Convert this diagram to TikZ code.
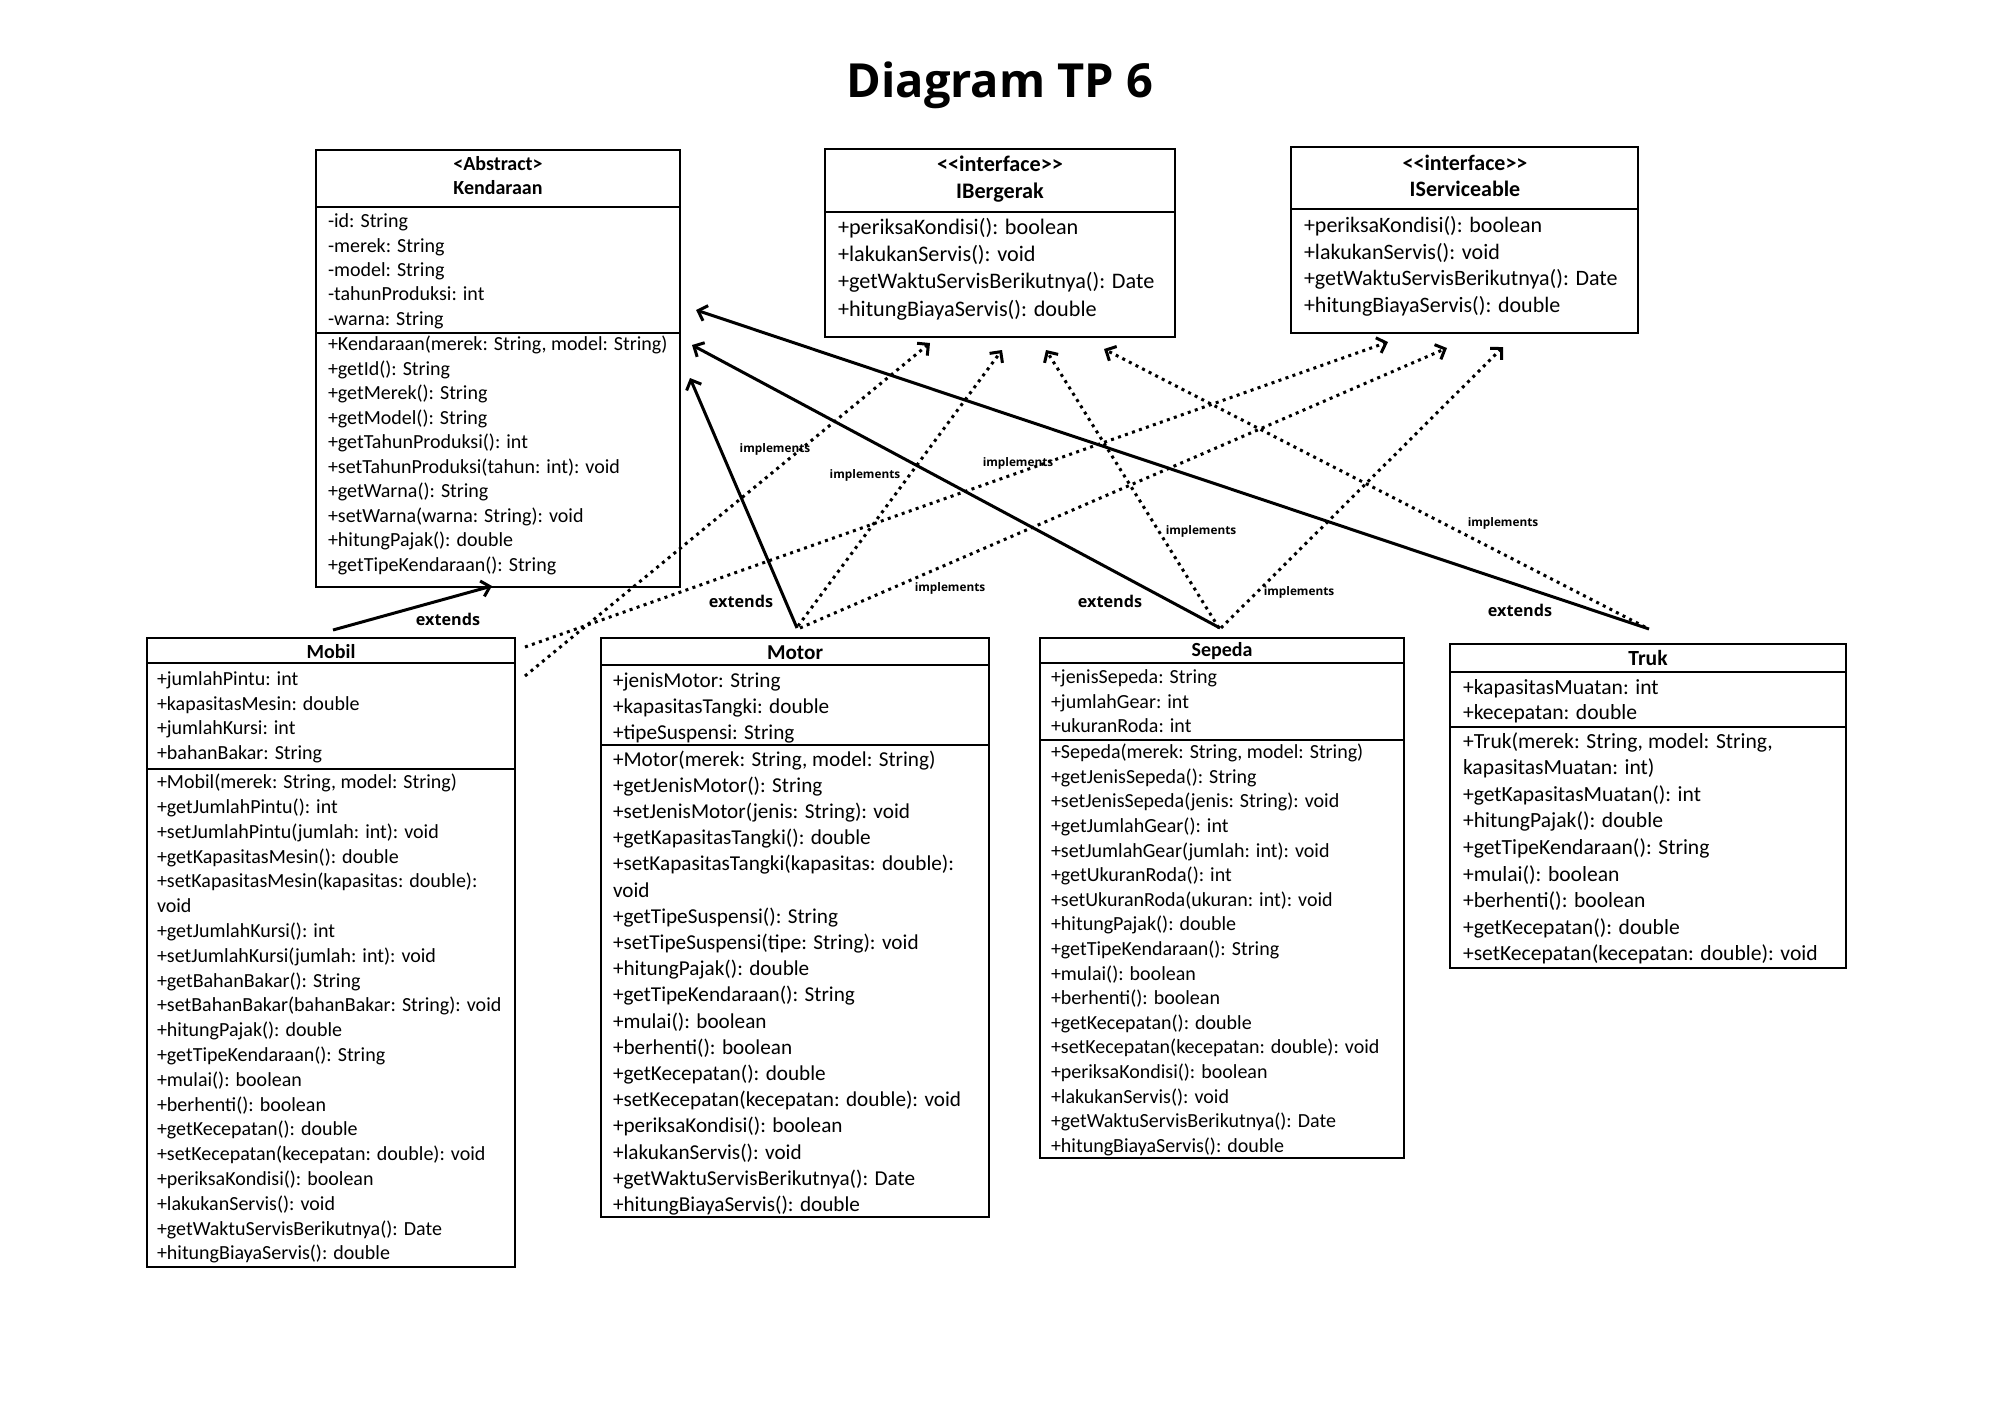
\documentclass[tikz,border=0pt]{standalone}
\usepackage{fontspec}
\setmainfont{Carlito}
\newfontfamily\opensans{Open Sans}
\usetikzlibrary{arrows.meta}
\newcommand\fst{\rule{0pt}{1em}}
\tikzset{
  umlbox/.style={draw, line width=1pt, inner sep=0pt, outer sep=0pt, anchor=north west},
  divider/.style={line width=1pt},
  txt/.style={anchor=north west, inner sep=0pt, outer sep=0pt, align=left},
  hdr/.style={anchor=base, inner sep=0pt, outer sep=0pt},
  extarrow/.style={line width=1.5pt, -{Straight Barb[length=4pt,width=8pt]}},
  implarrow/.style={line width=1.5pt, dash pattern=on 1.5pt off 2.2pt, -{Straight Barb[length=4pt,width=8pt]}},
  lblimpl/.style={font=\opensans\bfseries\fontsize{5.9}{7}\selectfont, inner sep=0pt},
  lblext/.style={font=\opensans\bfseries\fontsize{8.1}{10}\selectfont, inner sep=0pt},
}
\begin{document}
\begin{tikzpicture}[x=0.5pt,y=-0.5pt]
\useasboundingbox (0,0) rectangle (2000,1414);
\fill[white] (0,0) rectangle (2000,1414);

% title
\node[hdr, font=\opensans\bfseries\fontsize{23.5}{28}\selectfont] (title) at (1000,97) {Diagram TP 6};

% ---------- Kendaraan ----------
\node[umlbox, minimum width=182pt, minimum height=218.5pt] (kend) at (316,150) {};
\draw[divider] (316,207) -- (680,207);
\draw[divider] (316,333) -- (680,333);
\node[hdr, font=\bfseries\fontsize{10}{12}\selectfont] (kendS) at (498,170.6) {<Abstract>};
\node[hdr, font=\bfseries\fontsize{10}{12}\selectfont] (kendN) at (498,194.6) {Kendaraan};
\node[txt, font=\fontsize{10}{12.2}\selectfont] (kendA) at (328,207.6) {\fst-id: String\\-merek: String\\-model: String\\-tahunProduksi: int\\-warna: String};
\node[txt, font=\fontsize{10}{12.25}\selectfont] (kendM) at (328,330.6) {\fst+Kendaraan(merek: String, model: String)\\+getId(): String\\+getMerek(): String\\+getModel(): String\\+getTahunProduksi(): int\\+setTahunProduksi(tahun: int): void\\+getWarna(): String\\+setWarna(warna: String): void\\+hitungPajak(): double\\+getTipeKendaraan(): String};

% ---------- IBergerak ----------
\node[umlbox, minimum width=175pt, minimum height=94pt] (iber) at (825,149) {};
\draw[divider] (825,212) -- (1175,212);
\node[hdr, font=\bfseries\fontsize{11.1}{13}\selectfont] (iberS) at (1000,171.3) {<{}<interface>{}>};
\node[hdr, font=\bfseries\fontsize{11.1}{13}\selectfont] (iberN) at (1000,198.8) {IBergerak};
\node[txt, font=\fontsize{11.1}{13.65}\selectfont] (iberM) at (838,212.1) {\fst+periksaKondisi(): boolean\\+lakukanServis(): void\\+getWaktuServisBerikutnya(): Date\\+hitungBiayaServis(): double};

% ---------- IServiceable ----------
\node[umlbox, minimum width=173.5pt, minimum height=93pt] (iser) at (1291,147) {};
\draw[divider] (1291,209) -- (1638,209);
\node[hdr, font=\bfseries\fontsize{11}{13}\selectfont] (iserS) at (1465,170.3) {<{}<interface>{}>};
\node[hdr, font=\bfseries\fontsize{11}{13}\selectfont] (iserN) at (1465,196.3) {IServiceable};
\node[txt, font=\fontsize{11}{13.4}\selectfont] (iserM) at (1304,210.3) {\fst+periksaKondisi(): boolean\\+lakukanServis(): void\\+getWaktuServisBerikutnya(): Date\\+hitungBiayaServis(): double};

% ---------- Mobil ----------
\node[umlbox, minimum width=184pt, minimum height=314.5pt] (mobil) at (147,638) {};
\draw[divider] (147,663) -- (515,663);
\draw[divider] (147,769) -- (515,769);
\node[hdr, font=\bfseries\fontsize{10}{12}\selectfont] (mobilN) at (331,658.6) {Mobil};
\node[txt, font=\fontsize{10}{12.3}\selectfont] (mobilA) at (157,665.6) {\fst+jumlahPintu: int\\+kapasitasMesin: double\\+jumlahKursi: int\\+bahanBakar: String};
\node[txt, font=\fontsize{10}{12.4}\selectfont] (mobilM) at (157,768.6) {\fst+Mobil(merek: String, model: String)\\+getJumlahPintu(): int\\+setJumlahPintu(jumlah: int): void\\+getKapasitasMesin(): double\\+setKapasitasMesin(kapasitas: double):\\void\\+getJumlahKursi(): int\\+setJumlahKursi(jumlah: int): void\\+getBahanBakar(): String\\+setBahanBakar(bahanBakar: String): void\\+hitungPajak(): double\\+getTipeKendaraan(): String\\+mulai(): boolean\\+berhenti(): boolean\\+getKecepatan(): double\\+setKecepatan(kecepatan: double): void\\+periksaKondisi(): boolean\\+lakukanServis(): void\\+getWaktuServisBerikutnya(): Date\\+hitungBiayaServis(): double};

% ---------- Motor ----------
\node[umlbox, minimum width=194pt, minimum height=289.5pt] (motor) at (601,638) {};
\draw[divider] (601,665) -- (989,665);
\draw[divider] (601,745) -- (989,745);
\node[hdr, font=\bfseries\fontsize{10.6}{12}\selectfont] (motorN) at (795,659) {Motor};
\node[txt, font=\fontsize{10.6}{13.2}\selectfont] (motorA) at (613,665.8) {\fst+jenisMotor: String\\+kapasitasTangki: double\\+tipeSuspensi: String};
\node[txt, font=\fontsize{10.6}{13.1}\selectfont] (motorM) at (613,744.8) {\fst+Motor(merek: String, model: String)\\+getJenisMotor(): String\\+setJenisMotor(jenis: String): void\\+getKapasitasTangki(): double\\+setKapasitasTangki(kapasitas: double):\\void\\+getTipeSuspensi(): String\\+setTipeSuspensi(tipe: String): void\\+hitungPajak(): double\\+getTipeKendaraan(): String\\+mulai(): boolean\\+berhenti(): boolean\\+getKecepatan(): double\\+setKecepatan(kecepatan: double): void\\+periksaKondisi(): boolean\\+lakukanServis(): void\\+getWaktuServisBerikutnya(): Date\\+hitungBiayaServis(): double};

% ---------- Sepeda ----------
\node[umlbox, minimum width=182pt, minimum height=260pt] (sepeda) at (1040,638) {};
\draw[divider] (1040,663) -- (1404,663);
\draw[divider] (1040,740) -- (1404,740);
\node[hdr, font=\bfseries\fontsize{10}{12}\selectfont] (sepedaN) at (1222,656.6) {Sepeda};
\node[txt, font=\fontsize{10}{12.2}\selectfont] (sepedaA) at (1051,663.6) {\fst+jenisSepeda: String\\+jumlahGear: int\\+ukuranRoda: int};
\node[txt, font=\fontsize{10}{12.3}\selectfont] (sepedaM) at (1051,738.6) {\fst+Sepeda(merek: String, model: String)\\+getJenisSepeda(): String\\+setJenisSepeda(jenis: String): void\\+getJumlahGear(): int\\+setJumlahGear(jumlah: int): void\\+getUkuranRoda(): int\\+setUkuranRoda(ukuran: int): void\\+hitungPajak(): double\\+getTipeKendaraan(): String\\+mulai(): boolean\\+berhenti(): boolean\\+getKecepatan(): double\\+setKecepatan(kecepatan: double): void\\+periksaKondisi(): boolean\\+lakukanServis(): void\\+getWaktuServisBerikutnya(): Date\\+hitungBiayaServis(): double};

% ---------- Truk ----------
\node[umlbox, minimum width=198pt, minimum height=162pt] (truk) at (1450,644) {};
\draw[divider] (1450,672) -- (1846,672);
\draw[divider] (1450,727) -- (1846,727);
\node[hdr, font=\bfseries\fontsize{10.8}{12}\selectfont] (trukN) at (1648,665) {Truk};
\node[txt, font=\fontsize{10.8}{12.8}\selectfont] (trukA) at (1463,672.5) {\fst+kapasitasMuatan: int\\+kecepatan: double};
\node[txt, font=\fontsize{10.8}{13.3}\selectfont] (trukM) at (1463,726.5) {\fst+Truk(merek: String, model: String,\\kapasitasMuatan: int)\\+getKapasitasMuatan(): int\\+hitungPajak(): double\\+getTipeKendaraan(): String\\+mulai(): boolean\\+berhenti(): boolean\\+getKecepatan(): double\\+setKecepatan(kecepatan: double): void};

% ---------- connector end points ----------
\coordinate (mobilE) at (333,630);
\coordinate (kendE1) at (492,586);
\coordinate (motorE) at (797,628);
\coordinate (kendE2) at (690,378);
\coordinate (sepedaE) at (1220,628);
\coordinate (kendE3) at (692,345);
\coordinate (trukE) at (1649,629);
\coordinate (kendE4) at (696,310);

\coordinate (mobilI1) at (525,676);
\coordinate (mobilI2) at (525,647);
\coordinate (motorI1) at (798,626);
\coordinate (motorI2) at (800,628);
\coordinate (sepedaI1) at (1219,628);
\coordinate (sepedaI2) at (1221,628);
\coordinate (trukI1) at (1645,627);

\coordinate (iberT1) at (930,343);
\coordinate (iberT2) at (1002,350);
\coordinate (iberT3) at (1046,350);
\coordinate (iberT4) at (1104,349);
\coordinate (iserT1) at (1388,342);
\coordinate (iserT2) at (1447,348);
\coordinate (iserT3) at (1503,347);

% extends
\draw[extarrow] (mobilE) -- (kendE1);
\draw[extarrow] (motorE) -- (kendE2);
\draw[extarrow] (sepedaE) -- (kendE3);
\draw[extarrow] (trukE) -- (kendE4);

% implements
\draw[implarrow] (mobilI1) -- (iberT1);
\draw[implarrow] (mobilI2) -- (iserT1);
\draw[implarrow] (motorI1) -- (iberT2);
\draw[implarrow] (motorI2) -- (iserT2);
\draw[implarrow] (sepedaI1) -- (iberT3);
\draw[implarrow] (sepedaI2) -- (iserT3);
\draw[implarrow] (trukI1) -- (iberT4);

% labels
\node[lblext] (le1) at (448,619) {extends};
\node[lblext] (le2) at (741,601) {extends};
\node[lblext] (le3) at (1110,601) {extends};
\node[lblext] (le4) at (1520,610) {extends};

\node[lblimpl] (li1) at (775,449) {implements};
\node[lblimpl] (li2) at (1018,463) {implements};
\node[lblimpl] (li3) at (865,475) {implements};
\node[lblimpl] (li4) at (950,588) {implements};
\node[lblimpl] (li5) at (1201,531) {implements};
\node[lblimpl] (li6) at (1299,592) {implements};
\node[lblimpl] (li7) at (1503,523) {implements};
\end{tikzpicture}
\end{document}
